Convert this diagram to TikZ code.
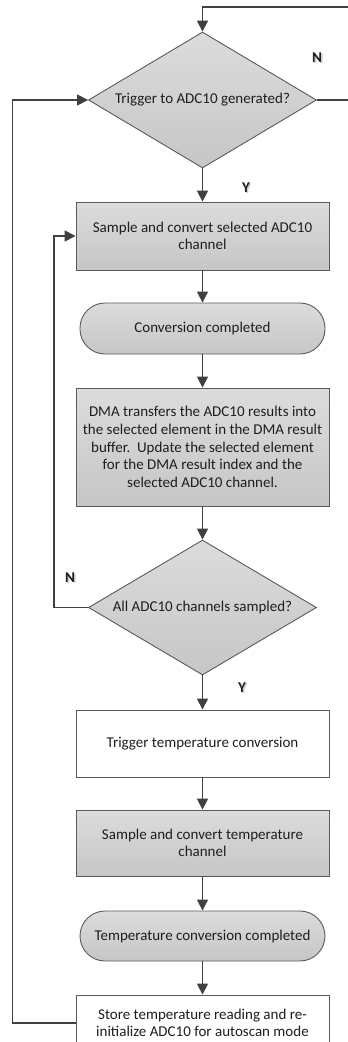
\documentclass[tikz,border=0pt]{standalone}
\usepackage{fontspec}
\setmainfont{Carlito}
\usetikzlibrary{shapes.geometric,arrows.meta}

\definecolor{boxtop}{RGB}{220,220,220}
\definecolor{boxbot}{RGB}{198,198,198}
\definecolor{linegray}{RGB}{64,64,64}
\definecolor{edgegray}{RGB}{90,90,90}
\definecolor{txtgray}{RGB}{30,30,30}
\definecolor{shadegray}{RGB}{200,200,200}

% letter with a soft drop shadow
\newcommand{\shadowed}[1]{\makebox[0pt][l]{\hspace{1.6pt}\raisebox{-1.6pt}{\textcolor{shadegray}{#1}}}#1}

\tikzset{
  proc/.style={draw=edgegray, line width=0.9pt, top color=boxtop, bottom color=boxbot,
    minimum width=253pt, align=center, inner sep=0pt, text=txtgray,
    font=\fontsize{15}{17.6}\selectfont},
  plain/.style={draw=edgegray, line width=0.9pt, fill=white,
    minimum width=253pt, align=center, inner sep=0pt, text=txtgray,
    font=\fontsize{15}{17.6}\selectfont},
  term/.style={proc, minimum width=245pt, rounded corners=25pt},
  decision/.style={diamond, aspect=1.68, draw=edgegray, line width=0.9pt,
    top color=boxtop, bottom color=boxbot, minimum width=228pt, minimum height=136pt,
    inner sep=0pt, text=txtgray, font=\fontsize{15}{17.6}\selectfont},
  flow/.style={draw=linegray, line width=1.6pt, -{Triangle[length=11pt,width=11pt]}},
  wire/.style={draw=linegray, line width=1.6pt},
  yn/.style={font=\fontsize{15}{17}\selectfont\bfseries, text=txtgray}
}

\begin{document}
\begin{tikzpicture}[x=1pt,y=-1pt]
  \useasboundingbox (0,0) rectangle (348,1042);

  % main column
  \node[decision] (trig) at (202.5,100) {Trigger to ADC10 generated?};
  \node[proc, minimum height=68pt] (samp) at (202.5,236) {Sample and convert selected ADC10\\channel};
  \node[term, minimum height=51pt] (conv) at (202.5,328.5) {Conversion completed};
  \node[proc, minimum height=118pt] (dma) at (202.5,447) {DMA transfers the ADC10 results into\\the selected element in the DMA result\\buffer.\ \ Update the selected element\\for the DMA result index and the\\selected ADC10 channel.};
  \node[decision, minimum height=135pt] (allch) at (202.5,607.5) {All ADC10 channels sampled?};
  \node[plain, minimum height=67pt] (ttrig) at (202.5,743.5) {Trigger temperature conversion};
  \node[proc, minimum height=66pt] (tsamp) at (202.5,843) {Sample and convert temperature\\channel};
  \node[term, minimum height=50pt] (tconv) at (202.5,936) {Temperature conversion completed};
  \node[plain, minimum height=56pt] (store) at (202.5,1023) {Store temperature reading and re-\\initialize ADC10 for autoscan mode};

  % off-page ends on the right
  \coordinate (topin) at (348,7);
  \coordinate (rightout) at (348,100);

  % arrows down the column
  \draw[flow] (topin) -| (trig.north);
  \draw[wire] (trig.east) -- (rightout);
  \draw[flow] (trig.south) -- (samp.north);
  \draw[flow] (samp.south) -- (conv.north);
  \draw[flow] (conv.south) -- (dma.north);
  \draw[flow] (dma.south) -- (allch.north);
  \draw[flow] (allch.south) -- (ttrig.north);
  \draw[flow] (ttrig.south) -- (tsamp.north);
  \draw[flow] (tsamp.south) -- (tconv.north);
  \draw[flow] (tconv.south) -- (store.north);

  % loops back
  \draw[flow] (allch.west) -- ++(-34,0) |- (samp.west);
  \draw[flow] (store.west) -- ++(-63,0) |- (trig.west);

  % branch labels
  \node[yn] (n1) at (317,58) {\shadowed{N}};
  \node[yn] (y1) at (246,188) {\shadowed{Y}};
  \node[yn] (n2) at (70,578) {\shadowed{N}};
  \node[yn] (y2) at (242,688) {\shadowed{Y}};
\end{tikzpicture}
\end{document}
